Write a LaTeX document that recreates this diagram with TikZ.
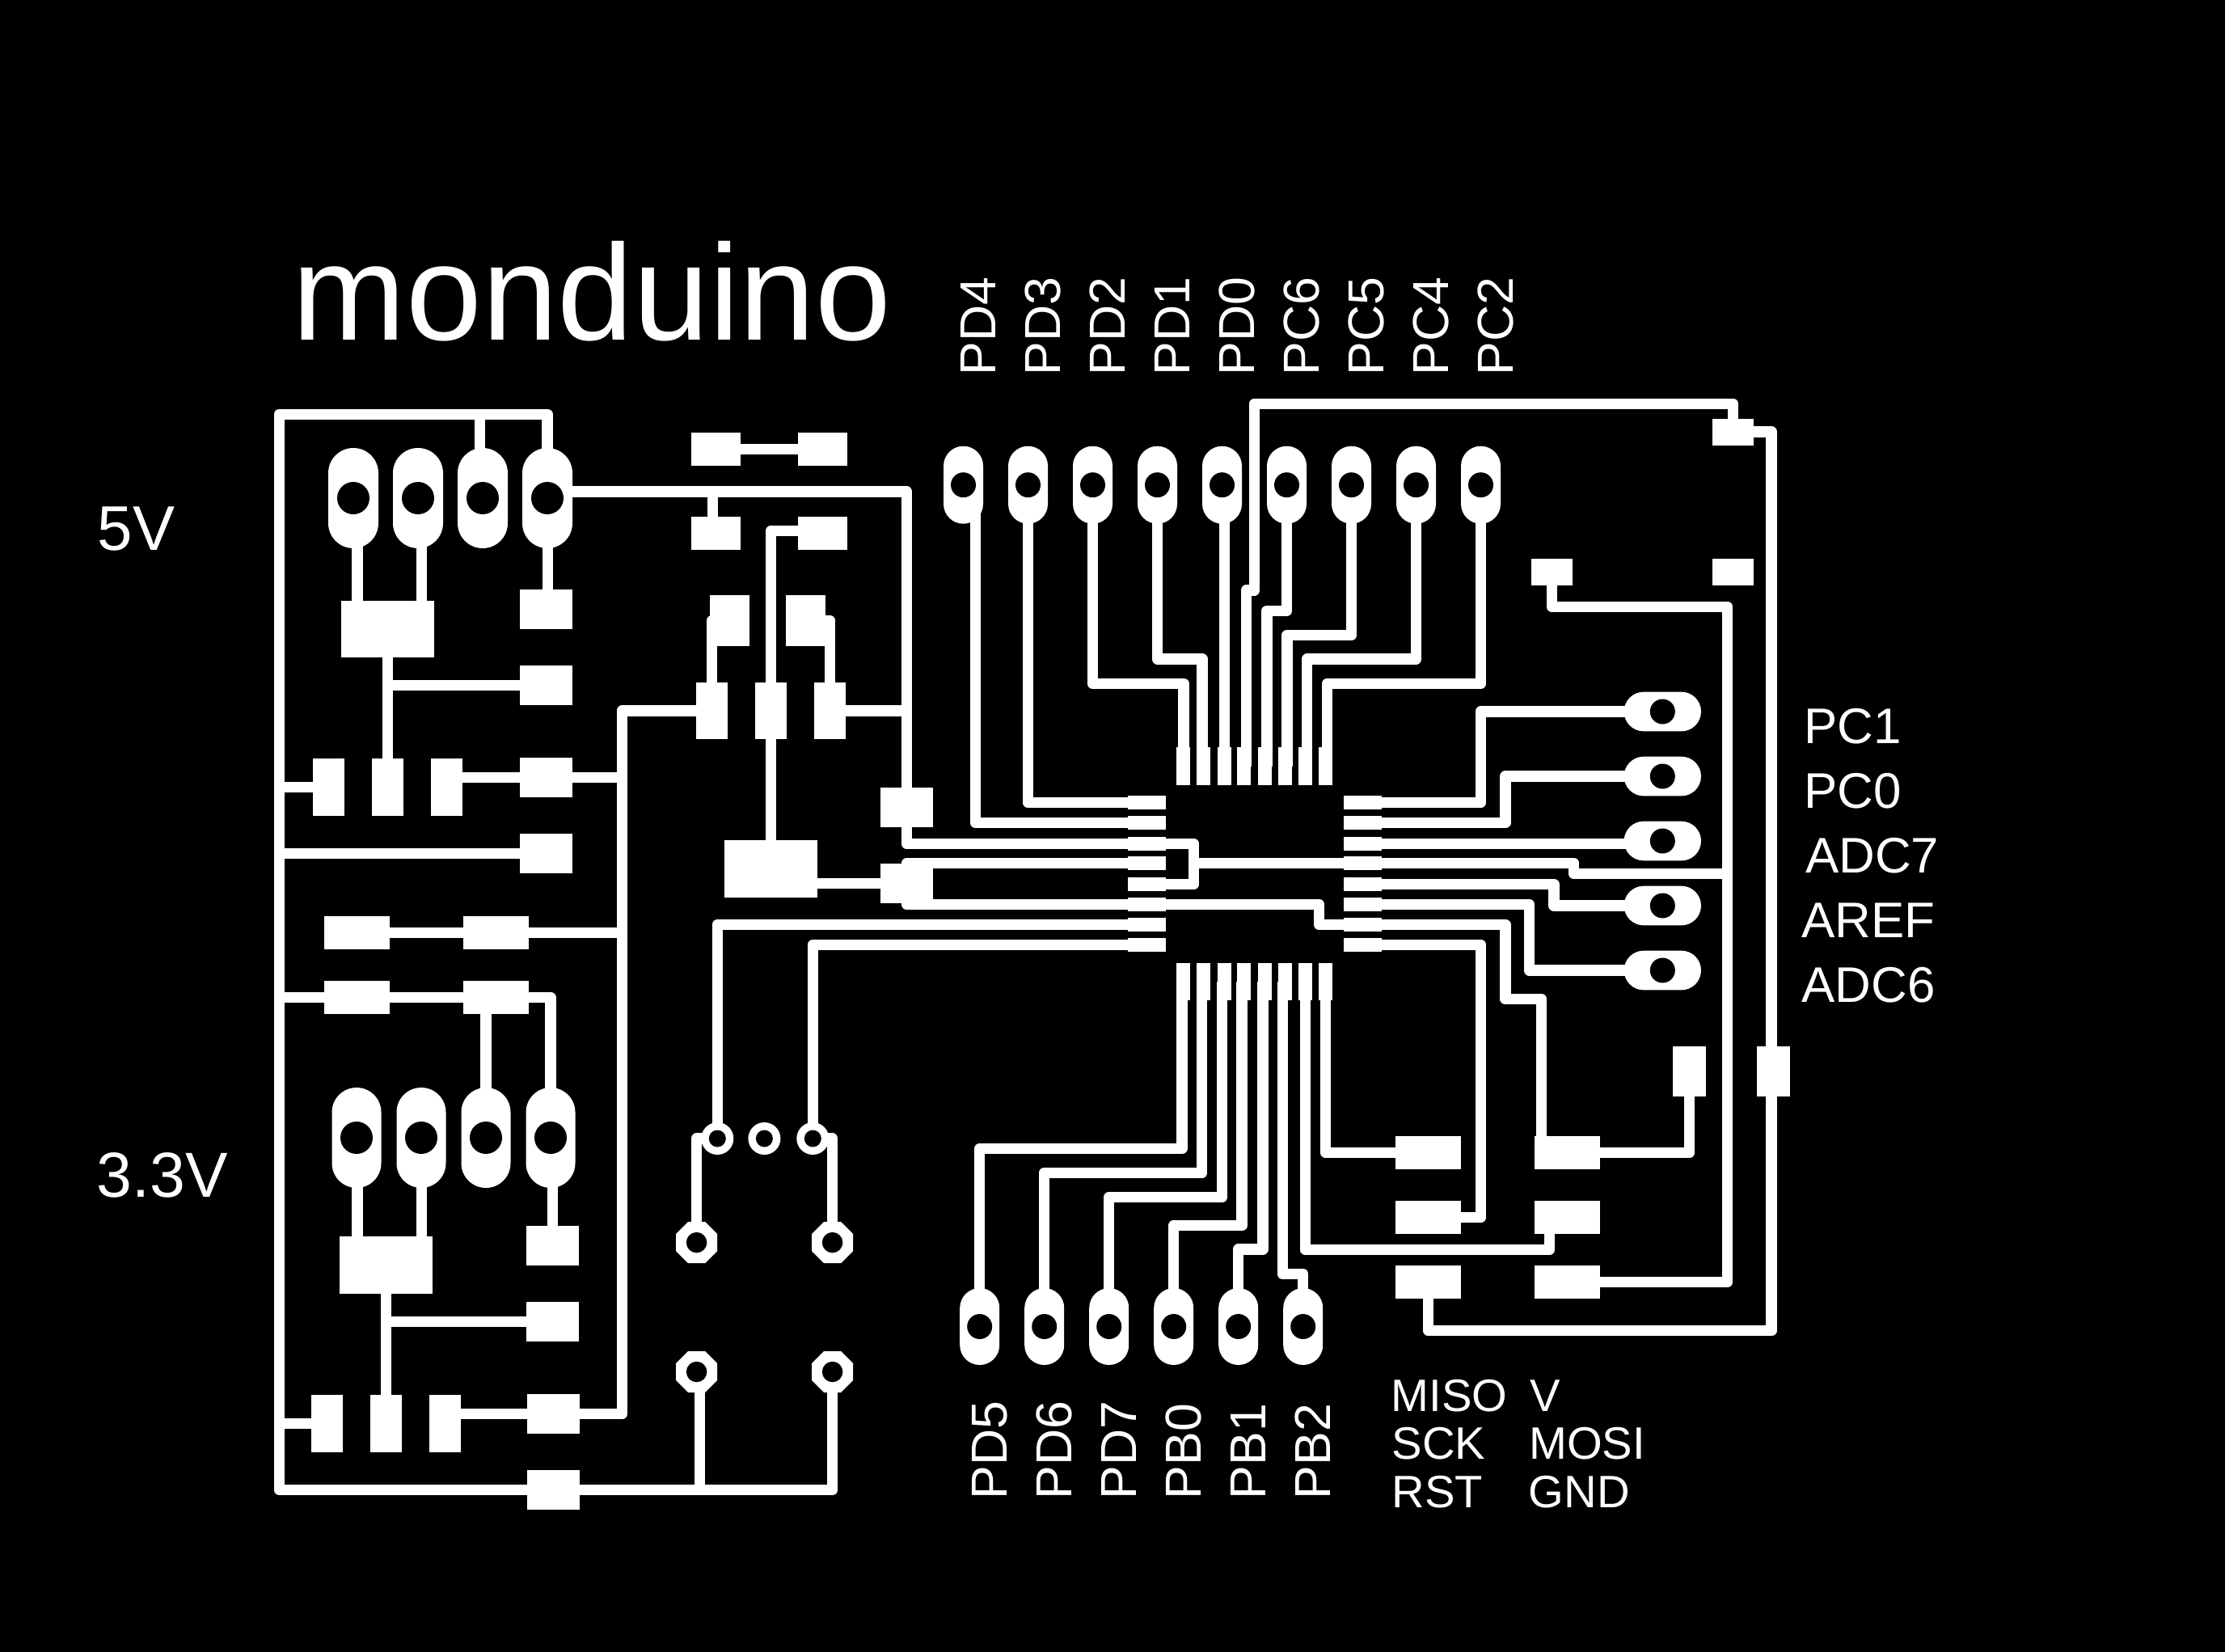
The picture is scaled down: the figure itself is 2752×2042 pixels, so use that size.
\documentclass[tikz,border=0pt]{standalone}
\usepackage{fontspec}
\setmainfont{Liberation Sans}
\usetikzlibrary{shapes.geometric}
\tikzset{
  pad/.style 2 args={fill=white,minimum width=#1*0.1mm,minimum height=#2*0.1mm},
  oval/.style n args={3}{pad={#1}{#2},rounded corners=#3*0.1mm},
  octa/.style={regular polygon,regular polygon sides=8,fill=white,minimum size=5.52mm},
  ring/.style={circle,fill=white,minimum size=4mm},
  hole/.style={circle,fill=black,minimum size=#1*0.1mm},
  trace/.style={white,line width=1.35mm,line join=round},
  txt/.style={text=white,anchor=base west,font=\fontsize{#1}{#1}\selectfont},
  txtup/.style={txt=#1,rotate=90}
}
\begin{document}
\begin{tikzpicture}[x=0.1mm,y=-0.1mm]
\tikzstyle{every node}+=[inner sep=0pt]
\useasboundingbox (0,0) rectangle (2752,2042);
\fill[black] (-10,-10) rectangle (2762,2052);
\foreach \i/\x in {1/437,2/517,3/597,4/677}
  \node[oval={62}{124}{31}] (j\i) at (\x,616) {};
\foreach \i/\x in {5/441,6/521,7/601,8/681}
  \node[oval={61}{124}{30.5}] (j\i) at (\x,1407) {};
\foreach \i in {1,...,9}
  \node[oval={49}{96}{24.5}] (k\i) at ({1111.5+80*\i},599.7) {};
\foreach \i in {1,...,6}
  \node[oval={49}{95}{24.5}] (l\i) at ({1131.7+80*\i},1640.5) {};
\foreach \i in {1,...,5}
  \node[oval={95.3}{48.7}{24.3}] (h\i) at (2056.3,{800+80*\i}) {};
\foreach \n/\y in {r1/753.4,r2/847.5,r3/961.4,r4/1055.3}
  \node[pad={65}{49}] (\n) at (675.5,\y) {};
\node[pad={65}{49}] (r5) at (683.5,1540.5) {};
\node[pad={65}{49}] (r6) at (683.5,1634.5) {};
\node[pad={65}{49}] (r7) at (684.5,1748.5) {};
\node[pad={65}{49}] (r8) at (684.5,1842.5) {};
\node[pad={115}{70.5}] (block1) at (479.5,778) {};
\node[pad={115}{71}] (block2) at (477.5,1564.5) {};
\node[pad={115}{71}] (block3) at (953.5,1074.5) {};
\foreach \n/\x in {a/406.5,b/479.5,c/552.5}
  \node[pad={39}{71}] (sot1\n) at (\x,973.5) {};
\foreach \n/\x in {a/404.5,b/477.5,c/550.5}
  \node[pad={39}{71}] (sot2\n) at (\x,1760.5) {};
\node[pad={81}{41}] (a1) at (441.5,1153.5) {};
\node[pad={81}{41}] (a2) at (613.5,1153.5) {};
\node[pad={81}{41}] (b1) at (441.5,1233.5) {};
\node[pad={81}{41}] (b2) at (613.5,1233.5) {};
\node[pad={61}{41}] (c1) at (885.5,555.5) {};
\node[pad={61}{41}] (c2) at (1017.5,555.5) {};
\node[pad={61}{41}] (c3) at (885.5,659.5) {};
\node[pad={61}{41}] (c4) at (1017.5,659.5) {};
\node[pad={49}{63}] (d1) at (902.5,767.5) {};
\node[pad={49}{63}] (d2) at (996.5,767.5) {};
\foreach \i/\x in {1/880.5,2/953.5,3/1026.5}
  \node[pad={39}{70.5}] (e\i) at (\x,879) {};
\node[pad={65}{49}] (f1) at (1121.5,998.5) {};
\node[pad={65}{49}] (f2) at (1121.5,1092.5) {};
\foreach \i/\y in {1/992.5,2/1017.5,3/1043.5,4/1067.5,5/1093.5,6/1118.5,7/1143.5,8/1168.5} {
  \node[pad={47}{17}] (pl\i) at (1418.5,\y) {};
  \node[pad={47}{17}] (pr\i) at (1685.5,\y) {};
}
\foreach \i/\x in {1/1463.5,2/1488.5,3/1514.5,4/1538.5,5/1564.5,6/1589.5,7/1614.5,8/1639.5} {
  \node[pad={17}{47}] (pt\i) at (\x,947.5) {};
  \node[pad={17}{46}] (pb\i) at (\x,1214) {};
}
\node[pad={51}{33}] (t1) at (2143.5,534) {};
\node[pad={51}{33}] (t2) at (1919.5,707) {};
\node[pad={51}{33}] (t3) at (2143.5,707) {};
\node[pad={40.5}{61.5}] (v1) at (2089.5,1325) {};
\node[pad={40.5}{61.5}] (v2) at (2193.5,1325) {};
\foreach \i/\x/\y in {1/1766.5/1425.5,2/1938.5/1425.5,3/1766.5/1505.5,4/1938.5/1505.5,5/1766.5/1585.5,6/1938.5/1585.5}
  \node[pad={81}{41}] (q\i) at (\x,\y) {};
\node[octa] (o1) at (861.6,1536.6) {};
\node[octa] (o2) at (1029.6,1536.6) {};
\node[octa] (o3) at (861.6,1696.5) {};
\node[octa] (o4) at (1029.6,1696.5) {};
\node[ring] (s1) at (887.3,1408) {};
\node[ring] (s2) at (945.4,1408) {};
\node[ring] (s3) at (1005.3,1408) {};
\coordinate (fl) at (345.5,0);
\coordinate (gr) at (769.4,0);
\coordinate (lp) at (1476.5,0);
\coordinate (jg) at (1631.5,0);
\coordinate (vcc) at (677,608);
\draw[trace] (j4.center) |- (fl |- 0,512.4) -- (fl |- r8) -- (r8.center) -- (r8 -| o4) -- (o4.center);
\draw[trace] (593.6,0 |- j3) -- (593.6,512.4);
\draw[trace] (441.8,0 |- j1) -- (441.8,0 |- block1);
\draw[trace] (521.4,0 |- j2) -- (521.4,0 |- block1);
\draw[trace] (677.5,0 |- j4) -- (677.5,0 |- r1);
\draw[trace] (block1.center) -- (sot1b.center);
\draw[trace] (r2.center) -| (block1.center);
\draw[trace] (sot1a.center) -- (sot1a -| fl);
\draw[trace] (sot1c |- r3) -- (r3 -| gr);
\draw[trace] (r4.center) -- (r4 -| fl);
\draw[trace] (e1.center) -- (e1 -| gr) -- (r7 -| gr) -- (sot2c |- r7);
\draw[trace] (a1.center) -- (a2 -| gr);
\draw[trace] (b1 -| fl) -- (b2.center) -| (j8.center);
\draw[trace] (j7 |- b2) -- (j7.center);
\draw[trace] (441.8,0 |- j5) -- (441.8,0 |- block2);
\draw[trace] (521.4,0 |- j6) -- (521.4,0 |- block2);
\draw[trace] (683.7,0 |- j8) -- (683.7,0 |- r5);
\draw[trace] (block2.center) -- (sot2b.center);
\draw[trace] (r6.center) -| (block2.center);
\draw[trace] (sot2a.center) -- (sot2a -| fl);
\draw[trace] (865.6,0 |- o3) -- (865.6,0 |- r8);
\draw[trace] (c1.center) -- (c2.center);
\draw[trace] (vcc) -| (f1.center);
\draw[trace] (881.5,0 |- vcc) -- (881.5,0 |- c3);
\draw[trace] (c4 |- 0,656.6) -| (e2.center);
\draw[trace] (d1.center) -| (e1.center);
\draw[trace] (d2.center) -| (e3.center);
\draw[trace] (e2.center) -- (block3.center);
\draw[trace] (e3.center) -| (f1.center);
\draw[trace] (block3 |- f2) -- (f2.center);
\draw[trace] (f1.center) |- (pl3.center);
\draw[trace] (pl4.center) -| (f2.center) |- (pl6.center);
\draw[trace] (pl1.center) -| (k2.center);
\draw[trace] (pl2.center) -| (1206.7,0 |- k1);
\draw[trace] (pl3.center) -- (pl3 -| lp) -- (pl5 -| lp) -- (pl5.center);
\draw[trace] (pl4 -| lp) -- (pr4.center) -- (1946.6,1067.5) -- (1946.6,1080.3) -- (2136.5,1080.3);
\draw[trace] (pl6.center) -- (pl6 -| jg) -- (pr7 -| jg) -- (pr7.center) -- (1861.8,1143.5) -- (1861.8,1235.3) -- (1906.4,1235.3) -- (1906.4,0 |- q2);
\draw[trace] (pl7.center) -| (s1.center);
\draw[trace] (pl8.center) -| (s3.center);
\draw[trace] (s1.center) -| (o1.center);
\draw[trace] (s3.center) -| (o2.center);
\foreach \a/\b/\x/\y in {3/1/1464/845.3,4/2/1487/815,6/5/1566.8/755.3,7/6/1591.8/785.3,8/7/1616.7/815,9/8/1641.6/845.3}
  \draw[trace] (k\a.center) -- (k\a |- 0,\y) -- (\x,\y) -- (\x,0 |- pt\b);
\draw[trace] (1514.5,0 |- k5) -- (pt3.center);
\draw[trace] (t1.center) |- (1551.4,499.3) -- (1551.4,730) -- (1541.5,730) -- (1541.5,0 |- pt4);
\draw[trace] (t1.center) -- (2191,0 |- t1) -- (2191,1645.5) -- (q5 |- 0,1645.5) -- (q5.center);
\draw[trace] (t2.center) |- (2136.5,750.3) -- (2136.5,0 |- q6) -- (q6.center);
\draw[trace] (h1.center) -- (k9 |- h1) -- (k9 |- pr1) -- (pr1.center);
\draw[trace] (h2.center) -- (1861.8,0 |- h2) -- (1861.8,0 |- pr2) -- (pr2.center);
\draw[trace] (pr3.center) -- (pr3 -| h3);
\draw[trace] (pr5.center) -- (1921.9,1093.5) -- (1921.9,0 |- h4) -- (h4.center);
\draw[trace] (pr6.center) -- (1891.3,1118.5) -- (1891.3,0 |- h5) -- (h5.center);
\draw[trace] (pr8.center) -- (k9 |- pr8) -- (k9 |- q3) -- (q3.center);
\draw[trace] (q2.center) -| (v1.center);
\draw[trace] (q1.center) -| (pb8.center);
\draw[trace] (q4 -| 1916.4,0) -- (1916.4,1545.5) -- (pb7 |- 0,1545.5) -- (pb7.center);
\foreach \i/\x/\y in {1/1461.8/1420.6,2/1486.7/1450.4,3/1511.3/1480.6,4/1536.2/1515.5,5/1561.8/1545,6/1586.3/1575.6}
  \draw[trace] (\x,0 |- pb\i) -- (\x,\y) -- (l\i |- 0,\y) -- (l\i.center);
\foreach \i in {1,...,8}
  \node[hole=40] (hj\i) at (j\i.center) {};
\foreach \i in {1,...,9}
  \node[hole=31] (hk\i) at (k\i.center) {};
\foreach \i in {1,...,6}
  \node[hole=31] (hl\i) at (l\i.center) {};
\foreach \i in {1,...,5}
  \node[hole=31] (hh\i) at (h\i.center) {};
\foreach \i in {1,...,4}
  \node[hole=25.5] (ho\i) at (o\i.center) {};
\foreach \i in {1,...,3}
  \node[hole=21] (hs\i) at (s\i.center) {};
\node[txt=48] (title) at (361,420) {monduino};
\node[txt=22.2] (five) at (120,680) {5V};
\node[txt=22.4] (three) at (119,1480) {3.3V};
\foreach \t [count=\i] in {PD4,PD3,PD2,PD1,PD0,PC6,PC5,PC4,PC2}
  \node[txtup=17.8] (up\t) at ({1151+80*\i},464.7) {\t};
\foreach \t [count=\i] in {PD5,PD6,PD7,PB0,PB1,PB2}
  \node[txtup=17.8] (dn\t) at ({1165.8+80*\i},1854.7) {\t};
\node[txt=17.6] (pc1) at (2231,919.7) {PC1};
\node[txt=17.6] (pc0) at (2231,999.7) {PC0};
\node[txt=17.6] (adc7) at (2232.5,1079.7) {ADC7};
\node[txt=17.6] (aref) at (2228,1159.7) {AREF};
\node[txt=17.6] (adc6) at (2228,1239.7) {ADC6};
\node[txt=16] (miso) at (1720,1745) {MISO};
\node[txt=16] (sck) at (1721,1804.7) {SCK};
\node[txt=16] (rst) at (1721,1864) {RST};
\node[txt=16] (vv) at (1892,1745) {V};
\node[txt=16] (mosi) at (1890.5,1804.7) {MOSI};
\node[txt=16] (gnd) at (1890,1864) {GND};
\end{tikzpicture}
\end{document}
